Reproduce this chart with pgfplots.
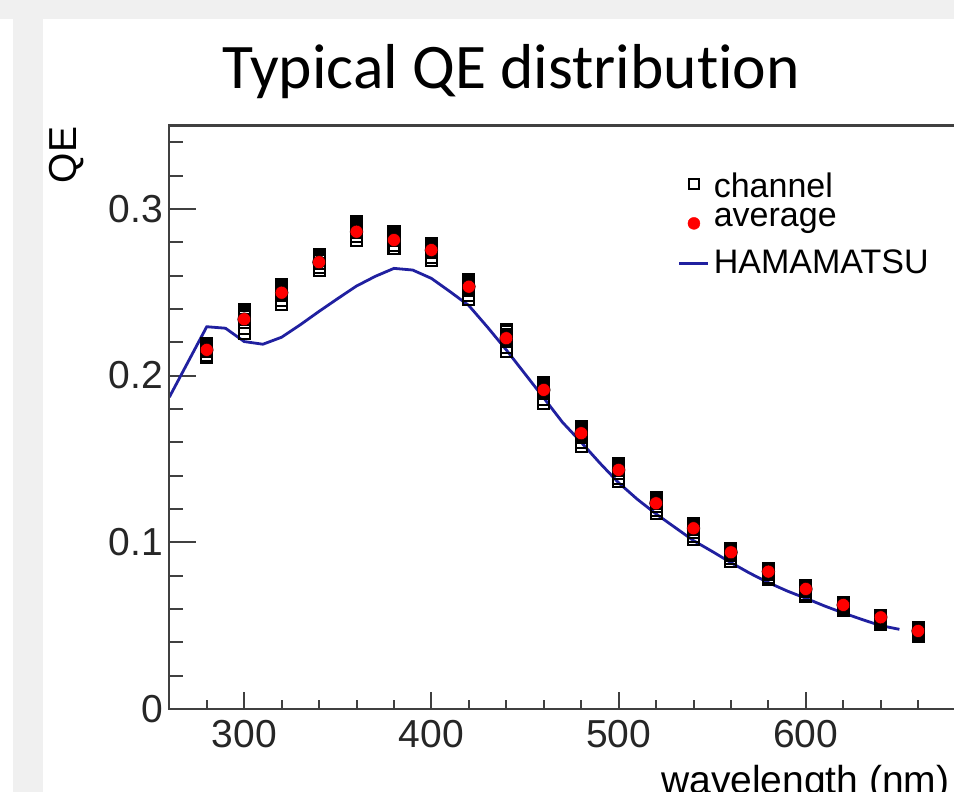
\documentclass[border=0pt]{standalone}
\usepackage{pgfplots}
\usepackage{pgfplotstable}
\pgfplotsset{compat=1.18}
\usepackage{fontspec}
\setmainfont{Liberation Sans}
\newfontfamily\titlefont[Ligatures=NoCommon]{Carlito}
\definecolor{bggray}{RGB}{240,240,240}
\definecolor{hamablue}{RGB}{32,32,160}
\definecolor{framegray}{RGB}{64,64,64}

\pgfplotstableread{
x y
280 0.2190
280 0.2182
280 0.2173
280 0.2165
280 0.2156
280 0.2144
280 0.2123
280 0.2106
300 0.2395
300 0.2381
300 0.2366
300 0.2352
300 0.2338
300 0.2316
300 0.2281
300 0.2252
320 0.2545
320 0.2533
320 0.2521
320 0.2510
320 0.2498
320 0.2480
320 0.2451
320 0.2427
340 0.2728
340 0.2718
340 0.2708
340 0.2698
340 0.2688
340 0.2674
340 0.2649
340 0.2629
360 0.2924
360 0.2913
360 0.2901
360 0.2890
360 0.2878
360 0.2861
360 0.2832
360 0.2809
380 0.2864
380 0.2854
380 0.2844
380 0.2833
380 0.2823
380 0.2808
380 0.2782
380 0.2762
400 0.2794
400 0.2784
400 0.2773
400 0.2763
400 0.2752
400 0.2736
400 0.2710
400 0.2689
420 0.2578
420 0.2566
420 0.2554
420 0.2542
420 0.2530
420 0.2511
420 0.2481
420 0.2457
440 0.2275
440 0.2262
440 0.2249
440 0.2235
440 0.2222
440 0.2202
440 0.2169
440 0.2143
460 0.1959
460 0.1946
460 0.1934
460 0.1921
460 0.1909
460 0.1890
460 0.1858
460 0.1833
480 0.1695
480 0.1683
480 0.1671
480 0.1658
480 0.1646
480 0.1628
480 0.1597
480 0.1573
500 0.1471
500 0.1460
500 0.1449
500 0.1439
500 0.1428
500 0.1412
500 0.1385
500 0.1363
520 0.1271
520 0.1261
520 0.1251
520 0.1242
520 0.1232
520 0.1217
520 0.1193
520 0.1173
540 0.1111
540 0.1102
540 0.1093
540 0.1083
540 0.1074
540 0.1060
540 0.1037
540 0.1019
560 0.0965
560 0.0957
560 0.0949
560 0.0942
560 0.0934
560 0.0922
560 0.0903
560 0.0887
580 0.0845
580 0.0838
580 0.0831
580 0.0825
580 0.0818
580 0.0808
580 0.0791
580 0.0777
600 0.0741
600 0.0734
600 0.0727
600 0.0721
600 0.0714
600 0.0704
600 0.0687
600 0.0673
620 0.0639
620 0.0634
620 0.0630
620 0.0625
620 0.0621
620 0.0614
620 0.0602
620 0.0593
640 0.0559
640 0.0554
640 0.0549
640 0.0544
640 0.0539
640 0.0532
640 0.0519
640 0.0509
660 0.0489
660 0.0484
660 0.0479
660 0.0473
660 0.0468
660 0.0460
660 0.0447
660 0.0437
}\channels

\pgfplotstableread{
x y
280 0.2154
300 0.2338
320 0.2497
340 0.2680
360 0.2863
380 0.2813
400 0.2753
420 0.2533
440 0.2224
460 0.1914
480 0.1654
500 0.1434
520 0.1234
540 0.1084
560 0.0940
580 0.0824
600 0.0720
620 0.0624
640 0.0550
660 0.0468
}\average

\pgfplotstableread{
x y
260 0.1870
280 0.2293
290 0.2284
300 0.2204
310 0.2188
320 0.2230
330 0.2305
340 0.2385
350 0.2462
360 0.2537
370 0.2595
380 0.2643
390 0.2633
400 0.2583
410 0.2503
420 0.2420
430 0.2290
440 0.2154
450 0.2010
460 0.1866
470 0.1720
480 0.1600
490 0.1475
500 0.1357
510 0.1258
520 0.1170
530 0.1090
540 0.1010
550 0.0945
560 0.0878
570 0.0815
580 0.0758
590 0.0708
600 0.0664
610 0.0618
620 0.0576
630 0.0537
640 0.0500
650 0.0478
}\hamamatsu

\pgfplotsset{
  qeframe/.style={
    at={(169.3pt,83pt)}, anchor=south west,
    scale only axis, width=786.3pt, height=583.5pt,
    xmin=260, xmax=680, ymin=0, ymax=0.35,
    axis line style={framegray, line width=2.2pt},
    tick align=inside, xtick pos=bottom, ytick pos=left,
    /pgf/number format/assume math mode=true,
    ticklabel style={font=\fontsize{39}{39}\selectfont, text=black!85},
  }
}

\begin{document}
\begin{tikzpicture}[x=1pt,y=1pt]
\useasboundingbox (0,0) rectangle (954,792);
\fill[bggray] (0,0) rectangle (954,792);
\fill[white] (43,0) rectangle (954,773);
\fill[white] (0,0) rectangle (13,773);
\clip (0,0) rectangle (954,792);
% main axis with y ticks and data
\begin{axis}[
  qeframe,
  xtick=\empty, minor xtick={},
  ytick={0,0.1,0.2,0.3},
  minor ytick={0.02,0.04,0.06,0.08,0.12,0.14,0.16,0.18,0.22,0.24,0.26,0.28,0.32,0.34},
  major tick length=27pt, minor tick length=14pt,
  tick style={framegray, line width=2pt},
  yticklabel style={inner sep=0pt, anchor=east, xshift=-6pt},
  title={Typical QE distribution},
  every axis title/.style={at={(rel axis cs:0.4346,1.0626)}, anchor=base, font=\titlefont\fontsize{63.5}{63.5}\selectfont},
  ylabel={QE},
  every axis y label/.style={at={(rel axis cs:-0.1301,0.9494)}, rotate=90, anchor=center, font=\fontsize{39}{39}\selectfont},
  legend style={at={(rel axis cs:0.647,0.9186)}, anchor=north west, draw=none, fill=none,
    inner sep=0pt, outer sep=0pt, row sep=0pt, column sep=4pt,
    nodes={inner sep=0pt, outer sep=0pt},
    font=\fontsize{34}{34}\selectfont},
  legend cell align=left,
]
\addplot[only marks, mark=square, mark size=5.5pt, mark options={black, line width=2.1pt},
  legend image code/.code={\path (0pt,0pt) (29pt,0pt); \draw[black, line width=1.5pt] (9.5pt,-3pt) rectangle (19.5pt,7pt);}]
  table[x=x, y=y] {\channels};
\addlegendentry{\rule[-7pt]{0pt}{30pt}channel}
\addplot[only marks, mark=*, mark size=6.5pt, mark options={draw=none, fill=red},
  legend image code/.code={\path (0pt,0pt) (29pt,0pt); \fill[red] (14.5pt,-10pt) circle (6pt);}]
  table[x=x, y=y] {\average};
\addlegendentry{\rule[-7pt]{0pt}{34pt}average}
\addplot[hamablue, line width=2.8pt, no marks,
  legend image code/.code={\draw[hamablue, line width=2.8pt] (0pt,-11pt) -- (29pt,-11pt);}]
  table[x=x, y=y] {\hamamatsu};
\addlegendentry{\rule[-7pt]{0pt}{51pt}HAMAMATSU}
\end{axis}
% x ticks (shorter ticks)
\begin{axis}[
  qeframe,
  xtick={300,400,500,600},
  minor xtick={280,320,340,360,380,420,440,460,480,520,540,560,580,620,640,660},
  ytick=\empty, minor ytick={},
  major tick length=17pt, minor tick length=9pt,
  tick style={framegray, line width=2pt},
  xticklabel style={inner sep=0pt, anchor=north, yshift=-11pt},
  xlabel={wavelength (nm)},
  every axis x label/.style={at={(rel axis cs:1,0)}, anchor=base east, yshift=-85pt, xshift=-2.6pt, font=\fontsize{39}{39}\selectfont},
]
\end{axis}
\end{tikzpicture}
\end{document}
